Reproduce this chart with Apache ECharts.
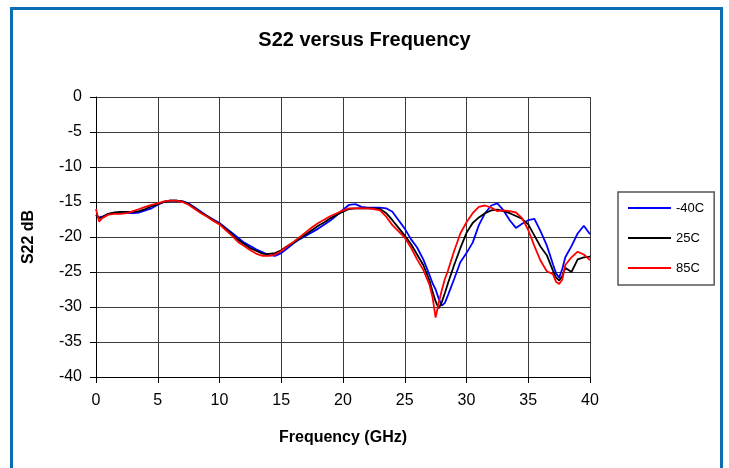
<!DOCTYPE html>
<html>
<head>
<meta charset="utf-8">
<script src="https://cdn.jsdelivr.net/npm/echarts@6/dist/echarts.min.js"></script>
<style>
html,body{margin:0;padding:0;background:#fff;}
#chart{width:729px;height:468px;}
</style>
</head>
<body>
<div id="chart"></div>
<script>
// Frequency grid (GHz)
const freq = [0,0.25,0.5,1,1.5,2,2.5,3,3.5,4,4.5,5,5.5,6,6.5,7,7.5,8,8.5,9,9.5,10,10.5,11,11.5,12,12.5,13,13.5,14,14.5,15,15.5,16,16.5,17,17.5,18,18.5,19,19.5,20,20.5,21,21.5,22,22.5,23,23.5,24,24.5,25,25.5,26,26.5,27,27.25,27.5,27.75,28,28.25,28.5,29,29.5,30,30.5,31,31.5,32,32.5,33,33.5,34,34.5,35,35.5,36,36.5,37,37.25,37.5,37.75,38,38.5,39,39.5,40];

// S22 (dB) at -40C
const sMinus40 = [-16.9,-17.2,-17.1,-16.7,-16.6,-16.6,-16.6,-16.6,-16.5,-16.2,-15.9,-15.4,-15.0,-14.8,-14.8,-14.9,-15.2,-15.8,-16.4,-17.0,-17.5,-18.0,-18.7,-19.4,-20.1,-20.8,-21.3,-21.8,-22.2,-22.6,-22.7,-22.3,-21.6,-20.9,-20.3,-19.8,-19.3,-18.8,-18.2,-17.6,-16.9,-16.1,-15.4,-15.3,-15.7,-15.8,-15.8,-15.8,-15.9,-16.4,-17.6,-18.8,-20.3,-21.5,-23.2,-25.4,-26.6,-27.5,-28.8,-29.8,-29.4,-28.3,-26.0,-23.6,-22.3,-20.8,-18.3,-16.6,-15.5,-15.2,-16.2,-17.6,-18.7,-18.1,-17.6,-17.4,-19.2,-21.2,-23.9,-25.2,-25.8,-24.6,-22.9,-21.3,-19.5,-18.4,-19.6];

// S22 (dB) at 25C
const s25 = [-16.8,-17.3,-17.2,-16.7,-16.5,-16.4,-16.4,-16.4,-16.3,-16.0,-15.6,-15.3,-15.0,-14.8,-14.8,-14.9,-15.3,-15.9,-16.5,-17.0,-17.6,-18.1,-18.8,-19.6,-20.4,-21.0,-21.6,-22.0,-22.4,-22.4,-22.3,-21.9,-21.3,-20.8,-20.2,-19.6,-19.0,-18.4,-17.9,-17.3,-16.8,-16.4,-16.0,-15.9,-15.9,-15.9,-15.9,-16.0,-16.6,-17.6,-18.7,-19.8,-21.0,-22.5,-24.0,-26.2,-27.8,-29.2,-30.2,-29.3,-28.0,-26.6,-24.0,-21.6,-19.4,-18.0,-17.2,-16.6,-16.2,-16.1,-16.3,-16.6,-17.0,-17.4,-18.2,-19.8,-21.4,-22.6,-24.8,-25.8,-26.2,-25.6,-24.4,-25.0,-23.2,-22.9,-22.8];

// S22 (dB) at 85C
const s85 = [-16.0,-17.8,-17.3,-16.8,-16.7,-16.7,-16.6,-16.3,-16.0,-15.7,-15.4,-15.2,-14.9,-14.8,-14.8,-15.0,-15.4,-16.0,-16.6,-17.1,-17.7,-18.2,-19.0,-19.8,-20.7,-21.3,-21.9,-22.4,-22.7,-22.7,-22.5,-22.0,-21.3,-20.7,-20.0,-19.3,-18.6,-18.0,-17.5,-17.0,-16.6,-16.2,-15.9,-15.9,-15.9,-15.9,-16.0,-16.2,-17.1,-18.3,-19.2,-20.1,-21.5,-23.2,-24.7,-26.8,-28.6,-31.5,-29.4,-27.6,-26.0,-24.8,-22.0,-19.5,-17.9,-16.6,-15.7,-15.5,-15.8,-16.3,-16.2,-16.3,-16.5,-17.3,-19.0,-21.3,-23.4,-24.9,-25.3,-26.4,-26.7,-26.1,-24.0,-22.9,-22.1,-22.5,-23.3];

const seriesNames = ['-40C', '25C', '85C'];
const xTicks = [0,5,10,15,20,25,30,35,40];
const yTicks = [0,-5,-10,-15,-20,-25,-30,-35,-40];

const FONT = "'Liberation Sans', Arial, sans-serif";
const zip = (ys) => freq.map((f, i) => [f, ys[i]]);

const chart = echarts.init(document.getElementById('chart'), null, {renderer: 'canvas'});
chart.setOption({
  animation: false,
  backgroundColor: '#ffffff',
  title: {
    text: 'S22 versus Frequency',
    left: 'center',
    top: 25,
    textStyle: {fontFamily: FONT, fontSize: 20, fontWeight: 'bold', color: '#000'}
  },
  graphic: [{
    type: 'rect',
    shape: {x: 11.5, y: 8.5, width: 710, height: 480},
    style: {fill: 'none', stroke: '#0b6db3', lineWidth: 3},
    silent: true,
    z: 100
  }],
  legend: {
    orient: 'vertical',
    left: 618,
    top: 192,
    padding: [9, 10, 10, 10],
    icon: 'rect',
    itemWidth: 43,
    itemHeight: 2,
    itemGap: 16,
    borderColor: '#555',
    borderWidth: 1.5,
    textStyle: {fontFamily: FONT, fontSize: 13, lineHeight: 14, color: '#000'},
    data: seriesNames
  },
  grid: {left: 96, right: 139, top: 97, bottom: 91, containLabel: false},
  xAxis: {
    type: 'value',
    min: xTicks[0],
    max: xTicks[xTicks.length - 1],
    interval: 5,
    name: 'Frequency (GHz)',
    nameLocation: 'middle',
    nameGap: 53,
    nameTextStyle: {fontFamily: FONT, fontSize: 16, fontWeight: 'bold', color: '#000'},
    axisLine: {onZero: false, lineStyle: {color: '#000', width: 1}},
    axisTick: {show: true, length: 6, lineStyle: {color: '#000'}},
    axisLabel: {margin: 16, fontFamily: FONT, fontSize: 16, color: '#000'},
    splitLine: {show: true, lineStyle: {color: '#3a3a3a', width: 1}}
  },
  yAxis: {
    type: 'value',
    min: yTicks[yTicks.length - 1],
    max: yTicks[0],
    interval: 5,
    name: 'S22 dB',
    nameLocation: 'middle',
    nameGap: 59,
    nameTextStyle: {fontFamily: FONT, fontSize: 16, fontWeight: 'bold', color: '#000'},
    axisLine: {show: true, onZero: false, lineStyle: {color: '#000', width: 1}},
    axisTick: {show: true, length: 6, lineStyle: {color: '#000'}},
    axisLabel: {margin: 14, fontFamily: FONT, fontSize: 16, color: '#000'},
    splitLine: {show: true, lineStyle: {color: '#3a3a3a', width: 1}}
  },
  series: [
    {name: seriesNames[0], type: 'line', symbol: 'none', data: zip(sMinus40), lineStyle: {color: '#0000ff', width: 1.8}, itemStyle: {color: '#0000ff'}},
    {name: seriesNames[1], type: 'line', symbol: 'none', data: zip(s25), lineStyle: {color: '#000000', width: 1.8}, itemStyle: {color: '#000000'}},
    {name: seriesNames[2], type: 'line', symbol: 'none', data: zip(s85), lineStyle: {color: '#ff0000', width: 1.8}, itemStyle: {color: '#ff0000'}}
  ]
});
</script>
</body>
</html>
